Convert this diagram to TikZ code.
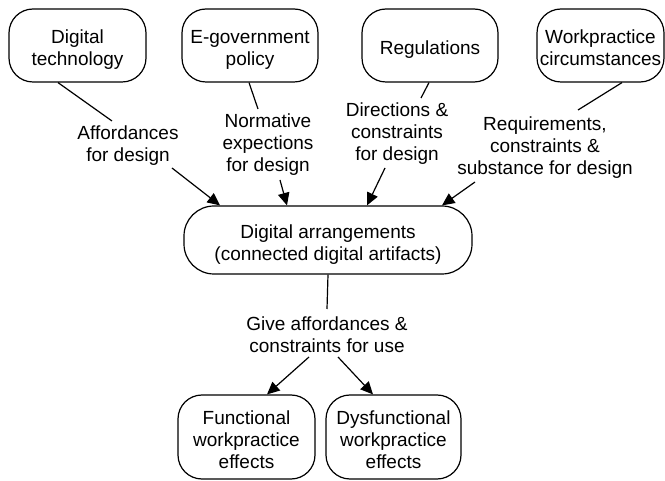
\documentclass[tikz,border=0pt]{standalone}
\usepackage{fontspec}
\setmainfont{Liberation Sans}
\usetikzlibrary{calc,arrows.meta}
\newcommand{\boxtext}[1]{\raisebox{-5pt}[\height][\depth]{\begin{tabular}{@{}c@{}}#1\end{tabular}}}
\tikzset{
  box/.style={draw, line width=1.2pt, rounded corners=24pt, align=center, inner sep=0pt, font=\fontsize{19}{22}\selectfont},
  lbl/.style={align=center, inner sep=0pt, font=\fontsize{19}{22}\selectfont},
  conn/.style={line width=1.2pt},
  arr/.style={line width=1.2pt, -{Triangle[length=12.5pt,width=11.5pt]}}
}
\begin{document}
\begin{tikzpicture}[x=1pt,y=-1pt]
\useasboundingbox (0,0) rectangle (665,481);
\node[box, minimum width=137pt, minimum height=73pt] (dt) at (77.5,45.5) {\boxtext{Digital\\technology}};
\node[box, minimum width=136pt, minimum height=73pt] (eg) at (250,45.5) {\boxtext{E-government\\policy}};
\node[box, minimum width=136pt, minimum height=73pt] (rg) at (430,45.5) {\boxtext{Regulations}};
\node[box, minimum width=127pt, minimum height=73pt] (wp) at (600.5,45.5) {\boxtext{Workpractice\\circumstances}};
\node[box, rounded corners=30pt, minimum width=288pt, minimum height=68pt] (da) at (328,240) {\boxtext{Digital arrangements\\(connected digital artifacts)}};
\node[box, minimum width=137pt, minimum height=84pt] (fn) at (246.5,437) {\boxtext{Functional\\workpractice\\effects}};
\node[box, minimum width=135pt, minimum height=84pt] (df) at (393.5,437) {\boxtext{Dysfunctional\\workpractice\\effects}};

\node[lbl] (l1) at (128,146) {Affordances\\for design};
\node[lbl] (l2) at (268,145) {Normative\\expections\\for design};
\node[lbl] (l3) at (397,133.5) {Directions \&\\constraints\\for design};
\node[lbl] (l4) at (545,148) {Requirements,\\constraints \&\\substance for design};
\node[lbl] (l5) at (327,334.5) {Give affordances \&\\constraints for use};

\draw[conn] ($(dt.south)+(-19.5,0)$) -- ($(l1)+(-16,-25)$);
\draw[arr] ($(l1)+(44,22)$) -- ($(da.north)+(-108,0)$);
\draw[conn] ($(eg.south)+(-1,0)$) -- ($(l2)+(-10,-36)$);
\draw[arr] ($(l2)+(12,35)$) -- ($(da.north)+(-41,0)$);
\draw[conn] ($(rg.south)+(-1,0)$) -- ($(l3)+(24,-35.5)$);
\draw[arr] ($(l3)+(-12,34.5)$) -- ($(da.north)+(39,0)$);
\draw[conn] ($(wp.south)+(21.5,0)$) -- ($(l4)+(33,-38)$);
\draw[arr] ($(l4)+(-70,34)$) -- ($(da.north)+(114,0)$);
\draw[conn] (da.south) -- ($(l5)+(0,-25.5)$);
\draw[arr] ($(l5)+(-18,22.5)$) -- ($(fn.north)+(20.5,0)$);
\draw[arr] ($(l5)+(11,22.5)$) -- ($(df.north)+(-20.5,0)$);
\end{tikzpicture}
\end{document}
